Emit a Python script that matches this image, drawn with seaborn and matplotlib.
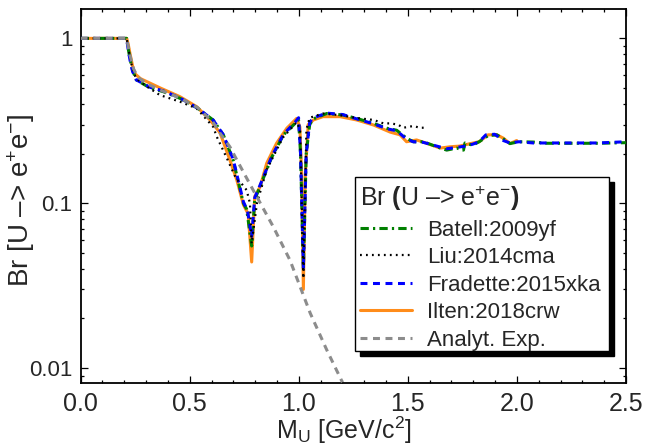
import matplotlib
matplotlib.use("Agg")
import matplotlib.pyplot as plt
import matplotlib.ticker as mticker
from matplotlib.patches import Rectangle
import seaborn as sns

# Br(U -> e+e-) vs dark photon mass
ilten_x = [0.0, 0.211, 0.218, 0.226, 0.238, 0.249, 0.274, 0.304, 0.365, 0.455, 0.532,
           0.593, 0.639, 0.684, 0.716, 0.746, 0.768, 0.784, 0.798, 0.823, 0.853, 0.898,
           0.945, 0.990, 1.005, 1.013, 1.021, 1.030, 1.043, 1.067, 1.111, 1.189, 1.265,
           1.343, 1.419, 1.464, 1.494, 1.540, 1.586, 1.648, 1.693, 1.736, 1.787, 1.827,
           1.868, 1.908, 1.938, 1.968, 1.999]
ilten_y = [1.0, 1.0, 0.92, 0.81, 0.68, 0.61, 0.57, 0.546, 0.50, 0.443, 0.385,
           0.32, 0.267, 0.183, 0.138, 0.098, 0.086, 0.044, 0.11, 0.126, 0.175, 0.231,
           0.285, 0.327, 0.29, 0.15, 0.030, 0.15, 0.30, 0.32, 0.335, 0.335, 0.32,
           0.298, 0.27, 0.26, 0.236, 0.242, 0.231, 0.216, 0.22, 0.222, 0.23, 0.236,
           0.26, 0.26, 0.248, 0.23, 0.24]

batell_x = [0.0, 0.211, 0.217, 0.226, 0.238, 0.255, 0.318, 0.379, 0.455, 0.532, 0.607,
            0.654, 0.699, 0.746, 0.761, 0.784, 0.798, 0.829, 0.876, 0.930, 0.983, 0.999,
            1.008, 1.021, 1.034, 1.050, 1.067, 1.128, 1.202, 1.265, 1.343, 1.404, 1.449,
            1.494, 1.525, 1.571, 1.633, 1.678, 1.724, 1.755, 1.762, 1.797, 1.827, 1.868,
            1.908, 1.950, 1.968, 2.009, 2.075, 2.136, 2.261, 2.372, 2.5]
batell_y = [1.0, 1.0, 0.88, 0.75, 0.64, 0.56, 0.50, 0.475, 0.433, 0.38, 0.32,
            0.26, 0.183, 0.100, 0.092, 0.055, 0.105, 0.133, 0.19, 0.26, 0.305, 0.32,
            0.2, 0.04, 0.2, 0.30, 0.325, 0.35, 0.343, 0.327, 0.305, 0.285, 0.277,
            0.248, 0.236, 0.236, 0.22, 0.21, 0.216, 0.21, 0.232, 0.225, 0.236, 0.257,
            0.26, 0.24, 0.23, 0.236, 0.235, 0.231, 0.231, 0.231, 0.233]

fradette_x = [0.0, 0.211, 0.217, 0.226, 0.238, 0.255, 0.318, 0.379, 0.455, 0.532, 0.607,
              0.654, 0.699, 0.746, 0.765, 0.784, 0.798, 0.829, 0.876, 0.930, 0.983, 0.999,
              1.008, 1.021, 1.034, 1.050, 1.067, 1.128, 1.202, 1.265, 1.343, 1.404, 1.449,
              1.494, 1.525, 1.571, 1.633, 1.678, 1.724, 1.762, 1.797, 1.827, 1.858, 1.898,
              1.938, 1.968, 2.009, 2.075, 2.136, 2.261, 2.372, 2.5]
fradette_y = [1.0, 1.0, 0.87, 0.74, 0.63, 0.56, 0.505, 0.48, 0.435, 0.38, 0.32,
              0.26, 0.185, 0.102, 0.09, 0.063, 0.108, 0.135, 0.192, 0.262, 0.31, 0.33,
              0.2, 0.04, 0.2, 0.31, 0.33, 0.352, 0.345, 0.325, 0.303, 0.283, 0.275,
              0.245, 0.236, 0.234, 0.222, 0.214, 0.218, 0.222, 0.228, 0.236, 0.26, 0.262,
              0.24, 0.232, 0.236, 0.232, 0.232, 0.232, 0.232, 0.236]

liu_x = [0.0, 0.211, 0.218, 0.228, 0.243, 0.255, 0.304, 0.363, 0.455, 0.532, 0.608,
         0.624, 0.674, 0.716, 0.731, 0.761, 0.776, 0.784, 0.808, 0.853, 0.898, 0.927,
         0.945, 0.990, 1.006, 1.021, 1.035, 1.050, 1.111, 1.189, 1.281, 1.343, 1.388,
         1.419, 1.454, 1.479, 1.525, 1.555, 1.586]
liu_y = [1.0, 1.0, 0.88, 0.74, 0.62, 0.57, 0.51, 0.453, 0.413, 0.376, 0.29,
         0.253, 0.183, 0.138, 0.135, 0.12, 0.10, 0.057, 0.10, 0.16, 0.21, 0.25,
         0.266, 0.31, 0.28, 0.035, 0.28, 0.33, 0.35, 0.342, 0.327, 0.32, 0.305,
         0.305, 0.30, 0.287, 0.294, 0.287, 0.287]

analyt_x = [0.0, 0.211, 0.218, 0.228, 0.243, 0.263, 0.304, 0.375, 0.455, 0.536, 0.607,
            0.639, 0.684, 0.716, 0.761, 0.791, 0.853, 0.883, 0.960, 1.052, 1.128, 1.20]
analyt_y = [1.0, 1.0, 0.89, 0.77, 0.65, 0.58, 0.53, 0.48, 0.435, 0.38, 0.31,
            0.266, 0.22, 0.183, 0.142, 0.12, 0.085, 0.072, 0.045, 0.0216, 0.0129, 0.0082]

sns.set_style("white")
plt.rcParams['font.family'] = ['Liberation Sans', 'DejaVu Sans']
plt.rcParams['mathtext.fontset'] = 'custom'
plt.rcParams['mathtext.rm'] = 'Liberation Sans'
plt.rcParams['mathtext.it'] = 'Liberation Sans:italic'
plt.rcParams['mathtext.bf'] = 'Liberation Sans:bold'
plt.rcParams['lines.scale_dashes'] = False

fig = plt.figure(figsize=(6.48, 4.47), dpi=100)
ax = fig.add_axes([0.1245, 0.1438, 0.8415, 0.8353])

# label, x, y, colour, linestyle, width, zorder
curves = [
    ("Ilten:2018crw", ilten_x, ilten_y, "#ff8c1a", "-", 2.2, 2),
    ("Batell:2009yf", batell_x, batell_y, "#008000", (0, (6, 3, 1.6, 3)), 2.2, 3),
    ("Fradette:2015xka", fradette_x, fradette_y, "#0000ff", (0, (5, 4)), 2.2, 4),
    ("Liu:2014cma", liu_x, liu_y, "black", (0, (1.3, 3.0)), 1.6, 5),
    ("Analyt. Exp.", analyt_x, analyt_y, "#8c8c8c", (0, (5, 4)), 2.2, 6),
]
handles = {}
for lab, xs, ys, col, ls, lw, z in curves:
    sns.lineplot(x=xs, y=ys, ax=ax, color=col, linestyle=ls, linewidth=lw,
                 estimator=None, zorder=z, label=lab, legend=False)
    handles[lab] = ax.get_lines()[-1]

ax.set_yscale('log')
ax.set_xlim(0, 2.5)
ax.set_ylim(0.00815, 1.5)
ax.xaxis.set_major_locator(mticker.MultipleLocator(0.5))
ax.xaxis.set_minor_locator(mticker.MultipleLocator(0.1))
ax.xaxis.set_major_formatter(mticker.FormatStrFormatter('%.1f'))
ax.yaxis.set_major_locator(mticker.LogLocator(base=10, numticks=10))
ax.yaxis.set_minor_locator(mticker.LogLocator(base=10, subs=range(2, 10), numticks=20))
ax.yaxis.set_major_formatter(mticker.FuncFormatter(lambda v, _: f"{v:g}"))
ax.yaxis.set_minor_formatter(mticker.NullFormatter())
ax.tick_params(which='both', direction='in', top=True, right=True, bottom=True,
               left=True, width=0.9, color='black')
ax.tick_params(which='major', length=5)
ax.tick_params(which='minor', length=2.5)
ax.tick_params(axis='x', labelsize=18, pad=7)
ax.tick_params(axis='y', labelsize=16, pad=6)
for s in ax.spines.values():
    s.set_color('black')
    s.set_linewidth(1.3)

ax.set_xlabel("M$_{\\mathrm{U}}$ [GeV/c$^{2}$]", fontsize=18)
ax.set_ylabel("Br [U \u2013> e$^{+}$e$^{-}$]", fontsize=20)
ax.xaxis.set_label_coords(0.483, -0.086)
ax.yaxis.set_label_coords(-0.08, 0.49)

# legend frame with solid black shadow
bx, by, bw, bh = 0.503, 0.085, 0.466, 0.465
ax.add_patch(Rectangle((bx + 0.0092, by - 0.0134), bw, bh, transform=ax.transAxes,
                       facecolor='black', edgecolor='black', zorder=8))
ax.add_patch(Rectangle((bx, by), bw, bh, transform=ax.transAxes,
                       facecolor='white', edgecolor='black', linewidth=1.0, zorder=9))
order = ["Batell:2009yf", "Liu:2014cma", "Fradette:2015xka", "Ilten:2018crw", "Analyt. Exp."]
leg = ax.legend([handles[k] for k in order], order, loc='upper left',
                bbox_to_anchor=(0.512, 0.532), frameon=False, fontsize=16,
                title="Br $\\mathbf{(}$U \u2013> e$^{+}$e$^{-}$$\\mathbf{)}$",
                title_fontsize=18, alignment='left', borderpad=0, borderaxespad=0,
                handlelength=2.34, handletextpad=0.68, labelspacing=0.29)
leg.set_zorder(10)

fig.savefig("out.png", dpi=100)
